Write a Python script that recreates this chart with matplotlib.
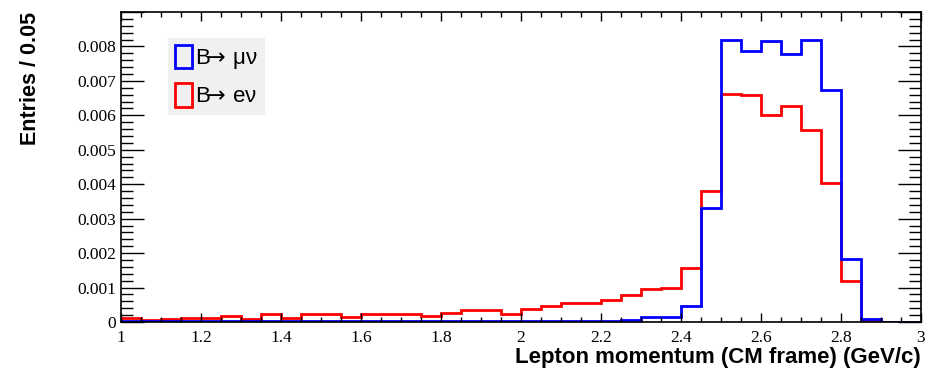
import matplotlib
matplotlib.use("Agg")
import matplotlib.pyplot as plt
import numpy as np
from matplotlib.patches import Patch
from matplotlib.ticker import MultipleLocator, FuncFormatter

# lepton momentum histograms, 40 bins of 0.05 GeV/c between 1 and 3
p_min, p_max, bin_width = 1.0, 3.0, 0.05
edges = np.arange(p_min, p_max + bin_width / 2, bin_width)

mu_nu = [0.03, 0.02, 0.03, 0.02, 0.03, 0.03, 0.02, 0.03, 0.02, 0.03,
         0.03, 0.02, 0.03, 0.03, 0.02, 0.03, 0.03, 0.03, 0.03, 0.03,
         0.04, 0.04, 0.04, 0.04, 0.04, 0.06, 0.14, 0.15, 0.47, 3.32,
         8.20, 7.86, 8.15, 7.79, 8.20, 6.73, 1.82, 0.09, 0.01, 0.00]
e_nu = [0.11, 0.07, 0.09, 0.13, 0.13, 0.17, 0.10, 0.22, 0.12, 0.22,
        0.22, 0.15, 0.23, 0.23, 0.23, 0.18, 0.25, 0.35, 0.35, 0.23,
        0.39, 0.47, 0.54, 0.56, 0.64, 0.78, 0.96, 1.00, 1.58, 3.79,
        6.63, 6.59, 6.00, 6.26, 5.58, 4.05, 1.20, 0.06, 0.00, 0.00]
mu_nu = np.array(mu_nu) * 1e-3
e_nu = np.array(e_nu) * 1e-3

fig = plt.figure(figsize=(9.29, 3.74), dpi=100)
ax = fig.add_axes([121 / 929, 1 - 322 / 374, 800 / 929, 310 / 374])

ax.stairs(e_nu, edges, color="#ff0000", lw=2.0, baseline=0)
ax.stairs(mu_nu, edges, color="#0000ff", lw=2.0, baseline=0)

ax.set_xlim(p_min, p_max)
ax.set_ylim(0, 0.009)

for s in ax.spines.values():
    s.set_linewidth(1.2)


def y_fmt(v, _):
    if v < 1e-9:
        return "0"
    if v > 0.0085:
        return ""
    return f"{v:.3f}"


ax.xaxis.set_major_locator(MultipleLocator(0.2))
ax.xaxis.set_minor_locator(MultipleLocator(0.05))
ax.yaxis.set_major_locator(MultipleLocator(0.001))
ax.yaxis.set_minor_locator(MultipleLocator(0.0002))
ax.xaxis.set_major_formatter(FuncFormatter(lambda v, _: f"{v:g}"))
ax.yaxis.set_major_formatter(FuncFormatter(y_fmt))

ax.tick_params(which="both", direction="in", top=True, right=True, width=1.0)
ax.tick_params(axis="x", which="major", length=6.5, pad=6)
ax.tick_params(axis="x", which="minor", length=3.5)
ax.tick_params(axis="y", which="major", length=16.5, pad=3.5)
ax.tick_params(axis="y", which="minor", length=8.5)
for lab in ax.get_xticklabels() + ax.get_yticklabels():
    lab.set_family("Liberation Serif")
    lab.set_fontsize(12.5)

arrow = "$\\!\\!\\rightarrow\\!$"
handles = [Patch(facecolor="none", edgecolor="#0000ff", lw=2.0, label="B" + arrow + " \u03bc\u03bd"),
           Patch(facecolor="none", edgecolor="#ff0000", lw=2.0, label="B" + arrow + " e\u03bd")]
leg = ax.legend(handles=handles, loc="upper left", bbox_to_anchor=(0.059, 0.916),
                prop={"family": ["Liberation Sans", "DejaVu Sans"], "size": 16},
                handlelength=0.75, handleheight=1.25, handletextpad=0.15,
                labelspacing=0.55, borderpad=0.3, borderaxespad=0,
                fancybox=False, frameon=True, framealpha=1)
leg.get_frame().set_facecolor("#f0f0f0")
leg.get_frame().set_edgecolor("#f0f0f0")

fig.text(921 / 929, 1 - 357 / 374, "Lepton momentum (CM frame) (GeV/c)",
         ha="right", va="center", fontsize=16, fontweight="bold",
         family="Liberation Sans")
fig.text(31 / 929, 1 - 12 / 374, "Entries / 0.05", rotation=90,
         ha="center", va="top", fontsize=15.5, fontweight="bold",
         family="Liberation Sans")

fig.savefig("out.png", dpi=100)
